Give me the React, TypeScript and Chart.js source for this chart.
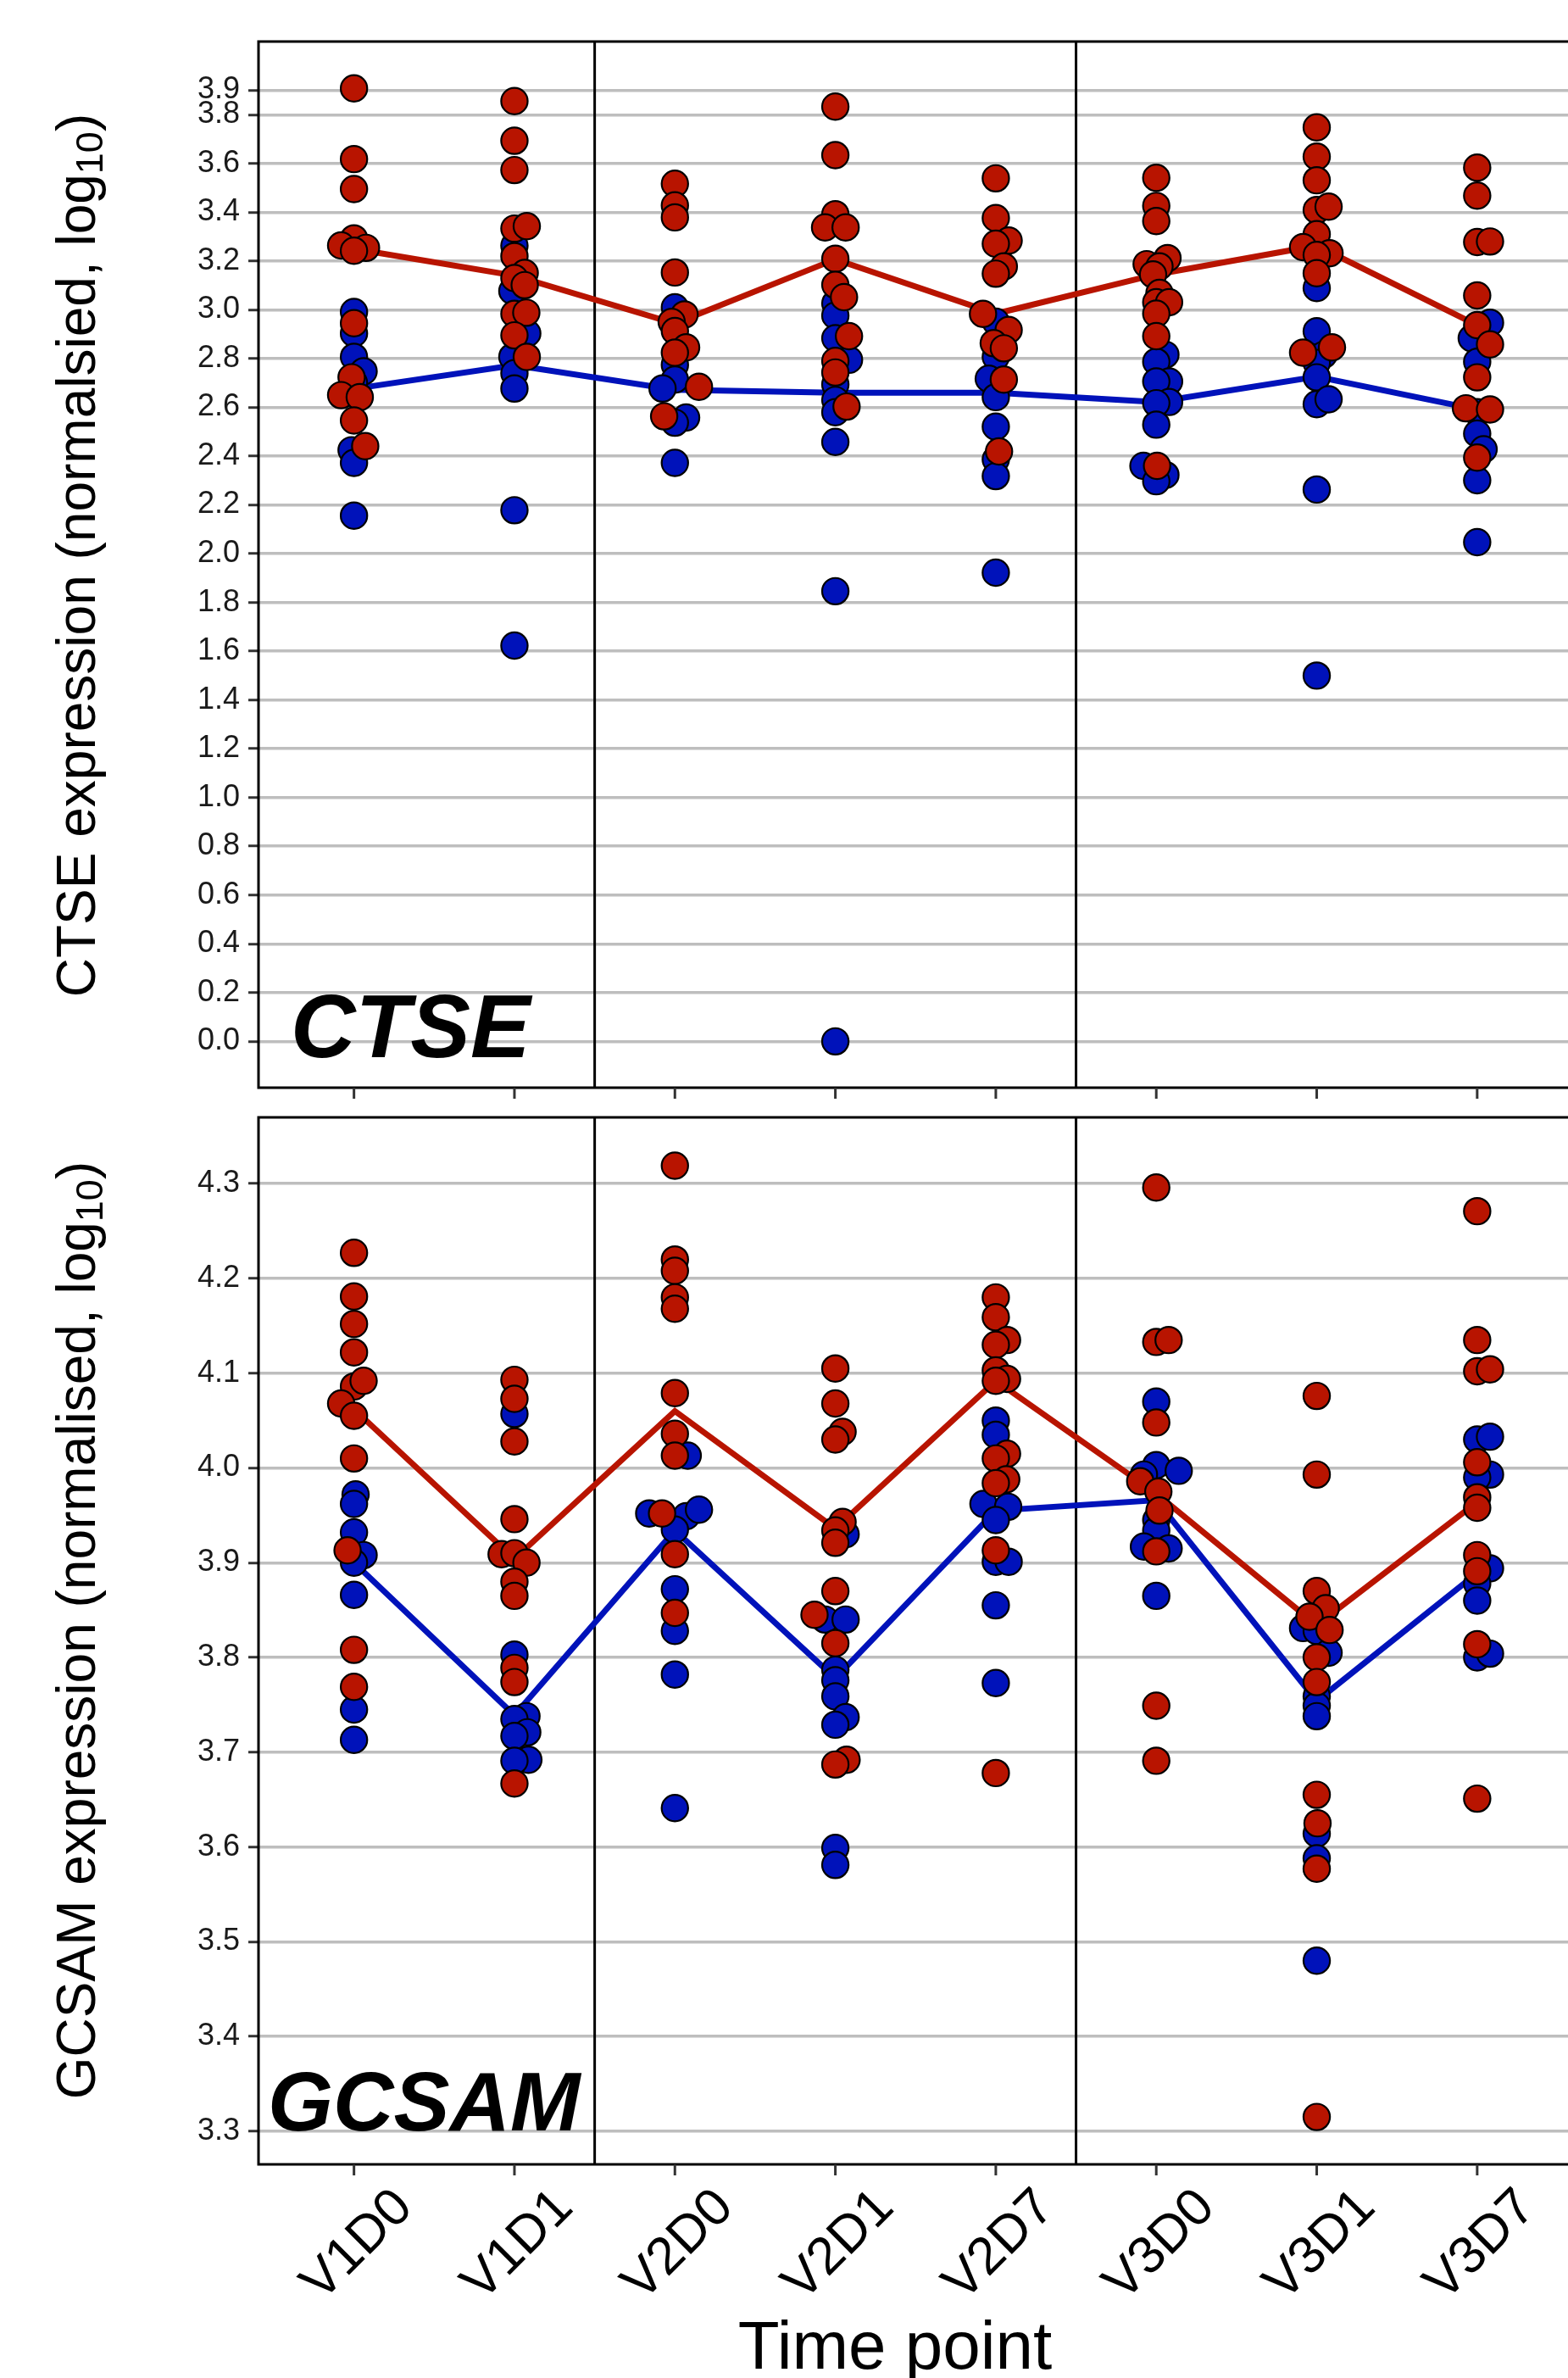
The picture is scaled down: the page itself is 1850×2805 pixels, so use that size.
import React, { useEffect, useRef } from "react";
import { Chart, registerables } from "chart.js";

Chart.register(...registerables);

// ---------------- DATA ----------------
const timePoints = ["V1D0", "V1D1", "V2D0", "V2D1", "V2D7", "V3D0", "V3D1", "V3D7"];
const visitSeparators = [1.5, 4.5];

const ctseTicks = [0, 0.2, 0.4, 0.6, 0.8, 1.0, 1.2, 1.4, 1.6, 1.8, 2.0, 2.2, 2.4, 2.6, 2.8, 3.0, 3.2, 3.4, 3.6, 3.8, 3.9];
const gcsamTicks = [3.3, 3.4, 3.5, 3.6, 3.7, 3.8, 3.9, 4.0, 4.1, 4.2, 4.3];

// [value, jitter] per time point
const ctseRed: [number, number][][] = [
  [[3.908, 0], [3.618, 0], [3.495, 0], [3.293, 0], [3.264, -0.08], [3.254, 0.075], [3.242, 0], [2.945, 0], [2.723, -0.015], [2.65, -0.08], [2.642, 0.036], [2.546, 0], [2.441, 0.07]],
  [[3.856, 0], [3.693, 0], [3.573, 0], [3.333, 0], [3.343, 0.077], [3.22, 0], [3.151, 0.064], [3.13, 0], [3.101, 0.064], [2.983, 0], [2.988, 0.074], [2.895, 0], [2.807, 0.077]],
  [[3.517, 0], [3.428, 0], [3.379, 0], [3.153, 0], [2.981, 0.06], [2.95, -0.02], [2.913, 0], [2.846, 0.07], [2.824, 0], [2.684, 0.15], [2.563, -0.067]],
  [[3.833, 0], [3.634, 0], [3.392, 0], [3.338, -0.064], [3.338, 0.064], [3.209, 0], [3.102, 0], [3.052, 0.054], [2.892, 0.085], [2.79, 0], [2.743, 0], [2.603, 0.07]],
  [[3.539, 0], [3.376, 0], [3.284, 0.08], [3.271, 0], [3.178, 0.05], [3.148, 0], [2.983, -0.08], [2.917, 0.08], [2.863, -0.013], [2.842, 0.05], [2.714, 0.05], [2.419, 0.02]],
  [[3.541, 0], [3.426, 0], [3.364, 0], [3.187, -0.06], [3.212, 0.07], [3.178, 0.02], [3.145, -0.02], [3.069, 0.02], [3.031, 0], [3.031, 0.08], [2.984, 0], [2.892, 0], [2.36, 0.005]],
  [[3.748, 0], [3.628, 0], [3.531, 0], [3.409, 0], [3.423, 0.074], [3.31, 0], [3.257, -0.085], [3.232, 0.08], [3.225, 0], [3.15, 0], [2.824, -0.085], [2.846, 0.095]],
  [[3.583, 0], [3.468, 0], [3.278, 0], [3.28, 0.08], [3.059, 0], [2.937, 0], [2.858, 0.08], [2.723, 0], [2.596, -0.07], [2.591, 0.08], [2.394, 0]],
];
const ctseBlue: [number, number][][] = [
  [[2.991, 0], [2.903, 0], [2.807, 0], [2.748, 0.06], [2.7, 0], [2.424, -0.015], [2.372, 0], [2.156, 0]],
  [[3.263, 0], [3.077, -0.013], [2.903, 0.08], [2.807, -0.013], [2.74, 0], [2.677, 0], [2.178, 0], [1.623, 0]],
  [[3.01, 0], [2.774, 0], [2.714, 0], [2.677, -0.077], [2.558, 0.07], [2.537, 0], [2.372, 0]],
  [[3.026, 0], [2.976, 0], [2.883, 0], [2.795, 0.085], [2.694, 0], [2.63, 0], [2.58, 0], [2.458, 0], [1.846, 0], [0.0, 0]],
  [[2.951, 0], [2.807, 0], [2.717, -0.044], [2.642, 0], [2.521, 0], [2.386, 0], [2.318, 0], [1.922, 0]],
  [[2.816, 0.057], [2.787, 0], [2.706, 0.08], [2.706, 0], [2.622, 0.08], [2.617, 0], [2.529, 0], [2.36, -0.08], [2.323, 0.057], [2.297, 0]],
  [[3.089, 0], [2.912, 0], [2.816, 0.044], [2.782, 0], [2.723, 0], [2.613, 0], [2.633, 0.074], [2.263, 0], [1.5, 0]],
  [[2.947, 0.08], [2.883, -0.034], [2.787, 0], [2.58, 0], [2.492, 0], [2.428, 0.04], [2.301, 0], [2.047, 0]],
];
const ctseRedMedian = [3.25, 3.14, 2.944, 3.207, 2.984, 3.145, 3.263, 2.937];
const ctseBlueMedian = [2.676, 2.773, 2.672, 2.66, 2.66, 2.622, 2.726, 2.591];

const gcsamRed: [number, number][][] = [
  [[4.227, 0], [4.181, 0], [4.152, 0], [4.122, 0], [4.086, 0], [4.092, 0.06], [4.068, -0.08], [4.055, 0], [4.01, 0], [3.913, -0.04], [3.808, 0], [3.769, 0]],
  [[4.093, 0], [4.073, 0], [4.028, 0], [3.946, 0], [3.909, -0.08], [3.91, 0], [3.9, 0.075], [3.88, 0], [3.865, 0], [3.789, 0], [3.774, 0], [3.667, 0]],
  [[4.319, 0], [4.22, 0], [4.208, 0], [4.18, 0], [4.168, 0], [4.079, 0], [4.036, 0], [4.013, 0], [3.952, -0.08], [3.909, 0], [3.847, 0]],
  [[4.105, 0], [4.068, 0], [4.038, 0.045], [4.03, 0], [3.943, 0.045], [3.934, 0], [3.921, 0], [3.87, 0], [3.845, -0.13], [3.815, 0], [3.692, 0.07], [3.687, 0]],
  [[4.18, 0], [4.159, 0], [4.135, 0.07], [4.13, 0], [4.103, 0], [4.094, 0.07], [4.092, 0], [4.015, 0.07], [4.01, 0], [3.988, 0.065], [3.984, 0], [3.913, 0], [3.678, 0]],
  [[4.296, 0], [4.133, 0], [4.135, 0.077], [4.048, 0], [3.986, -0.1], [3.975, 0.013], [3.955, 0.02], [3.912, 0], [3.749, 0], [3.691, 0]],
  [[4.076, 0], [3.993, 0], [3.87, 0], [3.852, 0.056], [3.843, -0.045], [3.829, 0.08], [3.8, 0], [3.774, 0], [3.655, 0], [3.625, 0.005], [3.577, 0], [3.315, 0]],
  [[4.271, 0], [4.135, 0], [4.102, 0], [4.104, 0.08], [4.006, 0], [3.969, 0], [3.958, 0], [3.908, 0], [3.891, 0], [3.814, 0], [3.651, 0]],
];
const gcsamBlue: [number, number][][] = [
  [[3.972, 0.01], [3.962, 0], [3.932, 0], [3.908, 0.06], [3.9, 0], [3.866, 0], [3.745, 0], [3.713, 0]],
  [[4.057, 0], [3.803, 0], [3.738, 0.075], [3.735, 0], [3.721, 0.08], [3.717, 0], [3.692, 0.087], [3.691, 0]],
  [[4.013, 0.08], [3.952, -0.16], [3.949, 0.07], [3.956, 0.15], [3.935, 0], [3.872, 0], [3.828, 0], [3.782, 0], [3.641, 0]],
  [[3.93, 0.064], [3.84, -0.064], [3.84, 0.064], [3.787, 0], [3.776, 0], [3.759, 0], [3.737, 0.064], [3.729, 0], [3.599, 0], [3.581, 0]],
  [[4.05, 0], [4.035, 0], [3.962, -0.077], [3.959, 0.077], [3.945, 0], [3.901, 0], [3.901, 0.08], [3.855, 0], [3.773, 0]],
  [[4.07, 0], [4.003, 0], [3.993, -0.077], [3.997, 0.14], [3.945, 0], [3.934, 0], [3.917, -0.077], [3.915, 0.077], [3.865, 0]],
  [[3.831, -0.085], [3.828, 0], [3.805, 0.074], [3.759, 0], [3.749, 0], [3.738, 0], [3.614, 0], [3.588, 0], [3.48, 0]],
  [[4.03, 0], [4.033, 0.08], [3.993, 0.08], [3.99, 0], [3.894, 0.08], [3.878, 0], [3.86, 0], [3.8, 0], [3.804, 0.08]],
];
const gcsamRedMedian = [4.062, 3.904, 4.06, 3.936, 4.092, 3.973, 3.834, 3.964];
const gcsamBlueMedian = [3.9, 3.739, 3.934, 3.778, 3.955, 3.966, 3.754, 3.889];

// ---------------- STYLE ----------------
const RED = "#B81400";
const BLUE = "#0012BA";
const FONT = "'Liberation Sans', Arial, Helvetica, sans-serif";

type PanelProps = {
  top: number;
  height: number;
  padTop: number;
  padBottom: number;
  yMin: number;
  yMax: number;
  ticks: number[];
  red: [number, number][][];
  blue: [number, number][][];
  redMedian: number[];
  blueMedian: number[];
  titleMain: string;
  titleCenterY: number;
  gene: string;
  geneFont: number;
  geneX: number;
  geneY: number;
  showXLabels: boolean;
};

const toPoints = (groups: [number, number][][]) =>
  groups.flatMap((g, i) => g.map(([v, j]) => ({ x: i + j, y: v })));
const toLine = (m: number[]) => m.map((v, i) => ({ x: i, y: v }));

function Panel(p: PanelProps) {
  const ref = useRef<HTMLCanvasElement>(null);
  useEffect(() => {
    const canvas = ref.current!;
    const decor = {
      id: "decor",
      beforeDatasetsDraw(chart: any) {
        const { ctx, chartArea: a, scales } = chart;
        const x = scales.x;
        ctx.save();
        ctx.strokeStyle = "#000";
        ctx.lineWidth = 3;
        for (const s of visitSeparators) {
          const px = x.getPixelForValue(s);
          ctx.beginPath();
          ctx.moveTo(px, a.top);
          ctx.lineTo(px, a.bottom);
          ctx.stroke();
        }
        ctx.restore();
      },
      afterDraw(chart: any) {
        const { ctx, chartArea: a, scales } = chart;
        const x = scales.x;
        ctx.save();
        // panel border (top, left, bottom)
        ctx.strokeStyle = "#000";
        ctx.lineWidth = 3;
        ctx.beginPath();
        ctx.moveTo(a.right + 5, a.top);
        ctx.lineTo(a.left, a.top);
        ctx.lineTo(a.left, a.bottom);
        ctx.lineTo(a.right + 5, a.bottom);
        ctx.stroke();
        // x tick marks
        ctx.strokeStyle = "#333333";
        ctx.lineWidth = 3;
        timePoints.forEach((_, i) => {
          const px = x.getPixelForValue(i);
          ctx.beginPath();
          ctx.moveTo(px, a.bottom);
          ctx.lineTo(px, a.bottom + 13);
          ctx.stroke();
        });
        // x labels
        if (p.showXLabels) {
          ctx.fillStyle = "#000";
          const fs = 62;
          ctx.font = `${fs}px ${FONT}`;
          ctx.textAlign = "right";
          ctx.textBaseline = "alphabetic";
          timePoints.forEach((lab, i) => {
            const px = x.getPixelForValue(i);
            ctx.save();
            ctx.translate(px + 40, a.bottom + 22);
            ctx.rotate(-Math.PI / 4);
            ctx.fillText(lab, 0, fs * 0.716);
            ctx.restore();
          });
          ctx.font = `80px ${FONT}`;
          ctx.textAlign = "center";
          ctx.fillText("Time point", 1056, a.bottom + 241);
        }
        // y title with subscript
        ctx.fillStyle = "#000";
        ctx.textBaseline = "alphabetic";
        ctx.textAlign = "left";
        const big = `64px ${FONT}`;
        const small = `45px ${FONT}`;
        ctx.font = big;
        const wMain = ctx.measureText(p.titleMain).width;
        const wTail = ctx.measureText(")").width;
        ctx.font = small;
        const wSub = ctx.measureText("10").width;
        const total = wMain + wSub + wTail;
        ctx.save();
        ctx.translate(112, p.titleCenterY);
        ctx.rotate(-Math.PI / 2);
        const sx = -total / 2;
        ctx.font = big;
        ctx.fillText(p.titleMain, sx, 0);
        ctx.font = small;
        ctx.fillText("10", sx + wMain, 9);
        ctx.font = big;
        ctx.fillText(")", sx + wMain + wSub, 0);
        ctx.restore();
        // gene label
        ctx.font = `italic bold ${p.geneFont}px ${FONT}`;
        ctx.textAlign = "left";
        ctx.fillText(p.gene, p.geneX, p.geneY);
        ctx.restore();
      },
    };

    const chart = new Chart(canvas, {
      type: "scatter",
      data: {
        datasets: [
          {
            type: "scatter",
            label: "red",
            data: toPoints(p.red),
            pointRadius: 15.6,
            pointBorderWidth: 2.2,
            pointBorderColor: "#000",
            pointBackgroundColor: RED,
            order: 0,
          } as any,
          {
            type: "scatter",
            label: "blue",
            data: toPoints(p.blue),
            pointRadius: 15.6,
            pointBorderWidth: 2.2,
            pointBorderColor: "#000",
            pointBackgroundColor: BLUE,
            order: 1,
          } as any,
          {
            type: "line",
            label: "red median",
            data: toLine(p.redMedian),
            borderColor: RED,
            borderWidth: 7,
            pointRadius: 0,
            fill: false,
            tension: 0,
            order: 2,
          } as any,
          {
            type: "line",
            label: "blue median",
            data: toLine(p.blueMedian),
            borderColor: BLUE,
            borderWidth: 7,
            pointRadius: 0,
            fill: false,
            tension: 0,
            order: 3,
          } as any,
        ],
      },
      options: {
        animation: false,
        responsive: false,
        devicePixelRatio: 1,
        events: [],
        layout: { autoPadding: false, padding: { top: p.padTop, bottom: p.padBottom, left: 0, right: 0 } },
        plugins: { legend: { display: false }, tooltip: { enabled: false } },
        scales: {
          x: {
            type: "linear",
            display: false,
            min: -0.595,
            max: 7.566,
          },
          y: {
            type: "linear",
            position: "left",
            min: p.yMin,
            max: p.yMax,
            border: { display: false },
            grid: {
              color: "#BEBEBE",
              lineWidth: 3.5,
              drawTicks: true,
              tickLength: 12,
              tickColor: "#333333",
              tickWidth: 3,
            },
            ticks: {
              autoSkip: false,
              padding: 10,
              color: "#1A1A1A",
              font: { family: FONT, size: 36 },
              callback: (v: any) => Number(v).toFixed(1),
            },
            afterBuildTicks: (s: any) => {
              s.ticks = p.ticks.map((v) => ({ value: v }));
            },
            afterFit: (s: any) => {
              s.width = 305;
              s.paddingTop = 0;
              s.paddingBottom = 0;
              s.paddingLeft = 0;
              s.paddingRight = 0;
            },
          },
        },
      } as any,
      plugins: [decor],
    });
    return () => chart.destroy();
  }, []);
  return (
    <canvas
      ref={ref}
      width={1850}
      height={p.height}
      style={{ position: "absolute", left: 0, top: p.top, width: 1850, height: p.height, display: "block" }}
    />
  );
}

export default function App() {
  useEffect(() => {
    document.documentElement.style.overflow = "hidden";
    document.body.style.overflow = "hidden";
  }, []);
  return (
    <div style={{ position: "fixed", left: 0, top: 0, width: 1850, height: 2805, background: "#fff", overflow: "hidden" }}>
      <Panel
        top={0}
        height={1300}
        padTop={49}
        padBottom={17}
        yMin={-0.19}
        yMax={4.1}
        ticks={ctseTicks}
        red={ctseRed}
        blue={ctseBlue}
        redMedian={ctseRedMedian}
        blueMedian={ctseBlueMedian}
        titleMain="CTSE expression (normalsied, log"
        titleCenterY={655}
        gene="CTSE"
        geneFont={106}
        geneX={343}
        geneY={1247}
        showXLabels={false}
      />
      <Panel
        top={1300}
        height={1505}
        padTop={18}
        padBottom={252}
        yMin={3.265}
        yMax={4.37}
        ticks={gcsamTicks}
        red={gcsamRed}
        blue={gcsamBlue}
        redMedian={gcsamRedMedian}
        blueMedian={gcsamBlueMedian}
        titleMain="GCSAM expression (normalised, log"
        titleCenterY={623}
        gene="GCSAM"
        geneFont={99}
        geneX={316}
        geneY={1213}
        showXLabels={true}
      />
    </div>
  );
}
